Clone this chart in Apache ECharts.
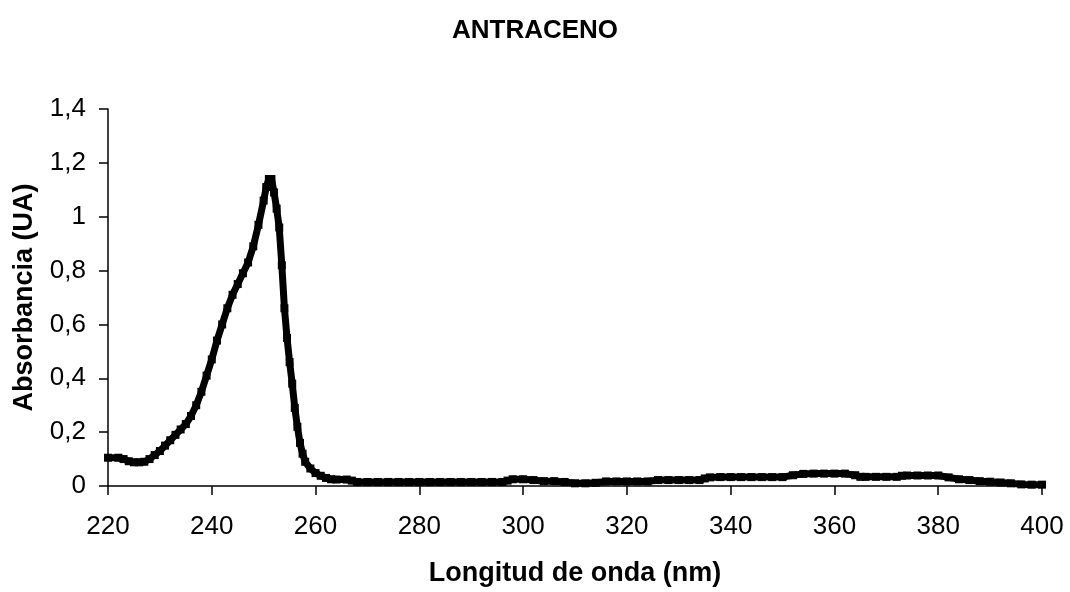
<!DOCTYPE html>
<html lang="es">
<head>
  <meta charset="UTF-8">
  <title>ANTRACENO</title>
  <style type="text/css">
    html, body { margin: 0; padding: 0; background: #fff; }
    #chart { width: 1070px; height: 592px; }
  </style>
</head>
<body>
  <div id="chart"></div>
  <script type="text/javascript" src="https://cdn.jsdelivr.net/npm/echarts@6/dist/echarts.min.js"></script>
  <script type="text/javascript">
    // longitud de onda (nm) y absorbancia
    var wavelength = [220, 222, 223, 224, 225, 226, 227, 228, 229, 230, 231, 232, 233, 234, 235, 236, 237, 238, 239, 240,
      241, 242, 243, 244, 245, 246, 247, 248, 249, 250, 250.5, 251, 251.5, 252, 252.5, 253, 253.5, 254, 254.5, 255,
      255.5, 256, 256.5, 257, 257.5, 258, 259, 260, 261, 262, 263, 264, 266, 267, 268, 270, 272, 274, 276, 278,
      280, 282, 284, 286, 288, 290, 292, 294, 296, 297, 298, 300, 302, 304, 306, 308, 310, 312, 314, 316,
      318, 320, 322, 324, 326, 328, 330, 332, 334, 335, 336, 338, 340, 342, 344, 346, 348, 350, 352, 354,
      356, 358, 360, 362, 364, 365, 366, 368, 370, 372, 373, 374, 376, 378, 380, 382, 384, 386, 388, 390,
      392, 394, 396, 398, 400];
    var absorbance = [0.105, 0.105, 0.1, 0.092, 0.088, 0.088, 0.09, 0.1, 0.115, 0.13, 0.15, 0.17, 0.19, 0.21, 0.23, 0.26, 0.3, 0.35, 0.41, 0.47,
      0.54, 0.6, 0.66, 0.71, 0.75, 0.79, 0.83, 0.89, 0.97, 1.06, 1.11, 1.14, 1.14, 1.09, 1.03, 0.96, 0.82, 0.66, 0.55, 0.46,
      0.38, 0.29, 0.22, 0.16, 0.12, 0.09, 0.065, 0.048, 0.038, 0.03, 0.025, 0.024, 0.024, 0.02, 0.015, 0.015, 0.015, 0.015, 0.015, 0.015,
      0.015, 0.015, 0.015, 0.015, 0.015, 0.015, 0.015, 0.015, 0.015, 0.02, 0.025, 0.025, 0.022, 0.018, 0.018, 0.015, 0.01, 0.01, 0.012, 0.017,
      0.017, 0.017, 0.017, 0.017, 0.022, 0.022, 0.022, 0.022, 0.022, 0.028, 0.032, 0.033, 0.033, 0.033, 0.033, 0.033, 0.033, 0.033, 0.04, 0.045,
      0.046, 0.046, 0.046, 0.046, 0.04, 0.034, 0.034, 0.034, 0.034, 0.034, 0.038, 0.039, 0.039, 0.039, 0.039, 0.032, 0.025, 0.022, 0.018, 0.016,
      0.013, 0.01, 0.006, 0.005, 0.005];

    var xTicks = [220, 240, 260, 280, 300, 320, 340, 360, 380, 400];
    var yTicks = [0, 0.2, 0.4, 0.6, 0.8, 1, 1.2, 1.4];

    var points = [];
    for (var i = 0; i < wavelength.length; i++) {
      points.push([wavelength[i], absorbance[i]]);
    }

    var font = 'Arial, "Liberation Sans", sans-serif';
    var myChart = echarts.init(document.getElementById('chart'));
    var option = {
      animation: false,
      backgroundColor: '#fff',
      title: {
        text: 'ANTRACENO',
        left: 'center',
        top: 13,
        textStyle: { fontFamily: font, fontSize: 26, fontWeight: 'bold', color: '#000' }
      },
      grid: { left: 108, right: 28, top: 109, bottom: 106 },
      xAxis: {
        type: 'value',
        min: xTicks[0],
        max: xTicks[xTicks.length - 1],
        interval: 20,
        name: 'Longitud de onda (nm)',
        nameLocation: 'middle',
        nameGap: 74,
        nameTextStyle: { fontFamily: font, fontSize: 27, fontWeight: 'bold', color: '#000' },
        splitLine: { show: false },
        axisLine: { lineStyle: { color: '#000', width: 1.5 } },
        axisTick: { length: 9, lineStyle: { color: '#000', width: 1.5 } },
        axisLabel: { fontFamily: font, fontSize: 26, color: '#000', margin: 28 }
      },
      yAxis: {
        type: 'value',
        min: yTicks[0],
        max: yTicks[yTicks.length - 1],
        interval: 0.2,
        name: 'Absorbancia (UA)',
        nameLocation: 'middle',
        nameGap: 70,
        nameTextStyle: { fontFamily: font, fontSize: 27, fontWeight: 'bold', color: '#000' },
        splitLine: { show: false },
        axisLine: { show: true, lineStyle: { color: '#000', width: 1.5 } },
        axisTick: { show: true, length: 9, lineStyle: { color: '#000', width: 1.5 } },
        axisLabel: {
          fontFamily: font, fontSize: 26, color: '#000', margin: 22,
          formatter: function (v) {
            return String(Math.round(v * 10) / 10).replace('.', ',');
          }
        }
      },
      series: [{
        type: 'line',
        data: points,
        symbol: 'rect',
        symbolSize: 8,
        itemStyle: { color: '#000' },
        lineStyle: { color: '#000', width: 7 },
        smooth: false
      }]
    };
    myChart.setOption(option);
  </script>
</body>
</html>
